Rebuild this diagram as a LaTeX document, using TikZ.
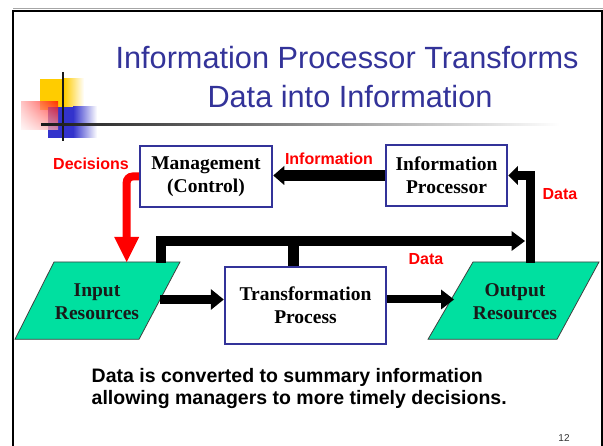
\documentclass[tikz,border=0pt]{standalone}
\usepackage{fontspec}
\setmainfont{Liberation Serif}
\newfontfamily\arialf{Liberation Sans}
\usetikzlibrary{arrows.meta,shadings}
\definecolor{titleblue}{HTML}{333399}
\definecolor{boxblue}{HTML}{333399}
\definecolor{resgreen}{HTML}{00E0A0}
\definecolor{logoyellow}{HTML}{FFCC00}
\definecolor{logoblue}{HTML}{3333CC}
\begin{document}
\begin{tikzpicture}[x=1pt,y=-1pt,
  titletext/.style={font=\arialf\fontsize{30.7}{36}\selectfont, text=titleblue, inner sep=0pt},
  procbox/.style={draw=boxblue, line width=2.5pt, fill=white, align=center,
    font=\fontsize{19.5}{23.3}\selectfont\bfseries, inner sep=0pt},
  restext/.style={align=center, font=\fontsize{19.5}{22.6}\selectfont\bfseries, text=black!90, inner sep=0pt},
  resshape/.style={fill=resgreen, draw=black!75, line width=0.8pt},
  lbl/.style={text=red, font=\arialf\bfseries\fontsize{16}{19}\selectfont, inner sep=0pt},
  notetext/.style={font=\arialf\bfseries\fontsize{19.5}{22}\selectfont, inner sep=0pt, align=left},
]
\useasboundingbox (0,0) rectangle (603,446);
% frame
\draw[gray!70, line width=1.5pt] (13,8.3) -- (603,8.3);
\draw[line width=2pt] (13,470) -- (13,11.5) -- (602,11.5) -- (602,470);
% logo
\fill[logoyellow] (40,79) rectangle (64.5,110);
\shade[left color=logoyellow, right color=white] (64,79) rectangle (84,110);
\fill[logoblue] (48,107) rectangle (73.5,138);
\shade[left color=logoblue, right color=white] (73,107) rectangle (97,138);
\shade[upper left=red!30, upper right=red!95!orange, lower left=red!4, lower right=red!35, opacity=0.75] (21,102) rectangle (58,130);
\fill[black!90] (61.7,71.7) rectangle (63.7,140.7);
\shade[left color=black!90, middle color=black!55, right color=white] (41,123.2) rectangle (560,125.2);
% title
\node[titletext] (t1) at (347,57.5) {Information Processor Transforms};
\node[titletext] (t2) at (350,97) {Data into Information};
% boxes
\node[procbox, minimum width=132pt, minimum height=61pt] (mg) at (206,176.5) {Management\\(Control)};
\node[procbox, minimum width=121pt, minimum height=61pt] (ip) at (446.5,175.5) {Information\\Processor};
\node[procbox, minimum width=161pt, minimum height=77pt] (tr) at (305.5,305.5) {Transformation\\Process};
% resources
\draw[resshape] (54,262) -- (180,262) -- (139,339.3) -- (15,339.3) -- cycle;
\node[restext] (inp) at (97,301.5) {Input\\Resources};
\draw[resshape] (473,262) -- (599,262) -- (557,339.3) -- (428,339.3) -- cycle;
\node[restext] (outp) at (515,301.5) {Output\\Resources};
% connector ends
\coordinate (inRed) at (126.7,262);
\coordinate (inTop) at (161,263);
\coordinate (dataTip) at (525,241);
\coordinate (branch) at (293.5,236);
\coordinate (outTop) at (530.5,263);
\coordinate (inRight) at (160,299.5);
\coordinate (outLeft) at (454,299.5);
% connectors
\draw[red, line width=8pt, rounded corners=6pt, -{Triangle[length=25pt,width=25pt,line width=0pt]}] (mg.west) -| (inRed);
\draw[line width=11pt, -{Triangle[length=11pt,width=19pt,line width=0pt]}] (ip.west) -- (ip.west -| mg.east);
\draw[line width=10pt, -{Triangle[length=13.5pt,width=20pt,line width=0pt]}] (inTop) |- (dataTip);
\draw[line width=11pt] (branch) -- (branch |- tr.north);
\draw[line width=9pt, -{Triangle[length=9.5pt,width=19pt,line width=0pt]}] (outTop) |- (ip.east);
\draw[line width=9pt, -{Triangle[length=13pt,width=21pt,line width=0pt]}] (inRight) -- (inRight -| tr.west);
\draw[line width=8pt, -{Triangle[length=13pt,width=20pt,line width=0pt]}] (tr.east |- outLeft) -- (outLeft);
% labels
\node[lbl] (lDec) at (91,164) {Decisions};
\node[lbl] (lInfo) at (329,159) {Information};
\node[lbl] (lData1) at (560,194) {Data};
\node[lbl] (lData2) at (426,259) {Data};
% note
\node[notetext, anchor=north west] (note) at (91.5,367.8) {Data is converted to summary information\\allowing managers to more timely decisions.};
\node[font=\arialf\fontsize{10}{12}\selectfont, text=black!80, inner sep=0pt] (pg) at (564,437.7) {12};
\end{tikzpicture}
\end{document}
